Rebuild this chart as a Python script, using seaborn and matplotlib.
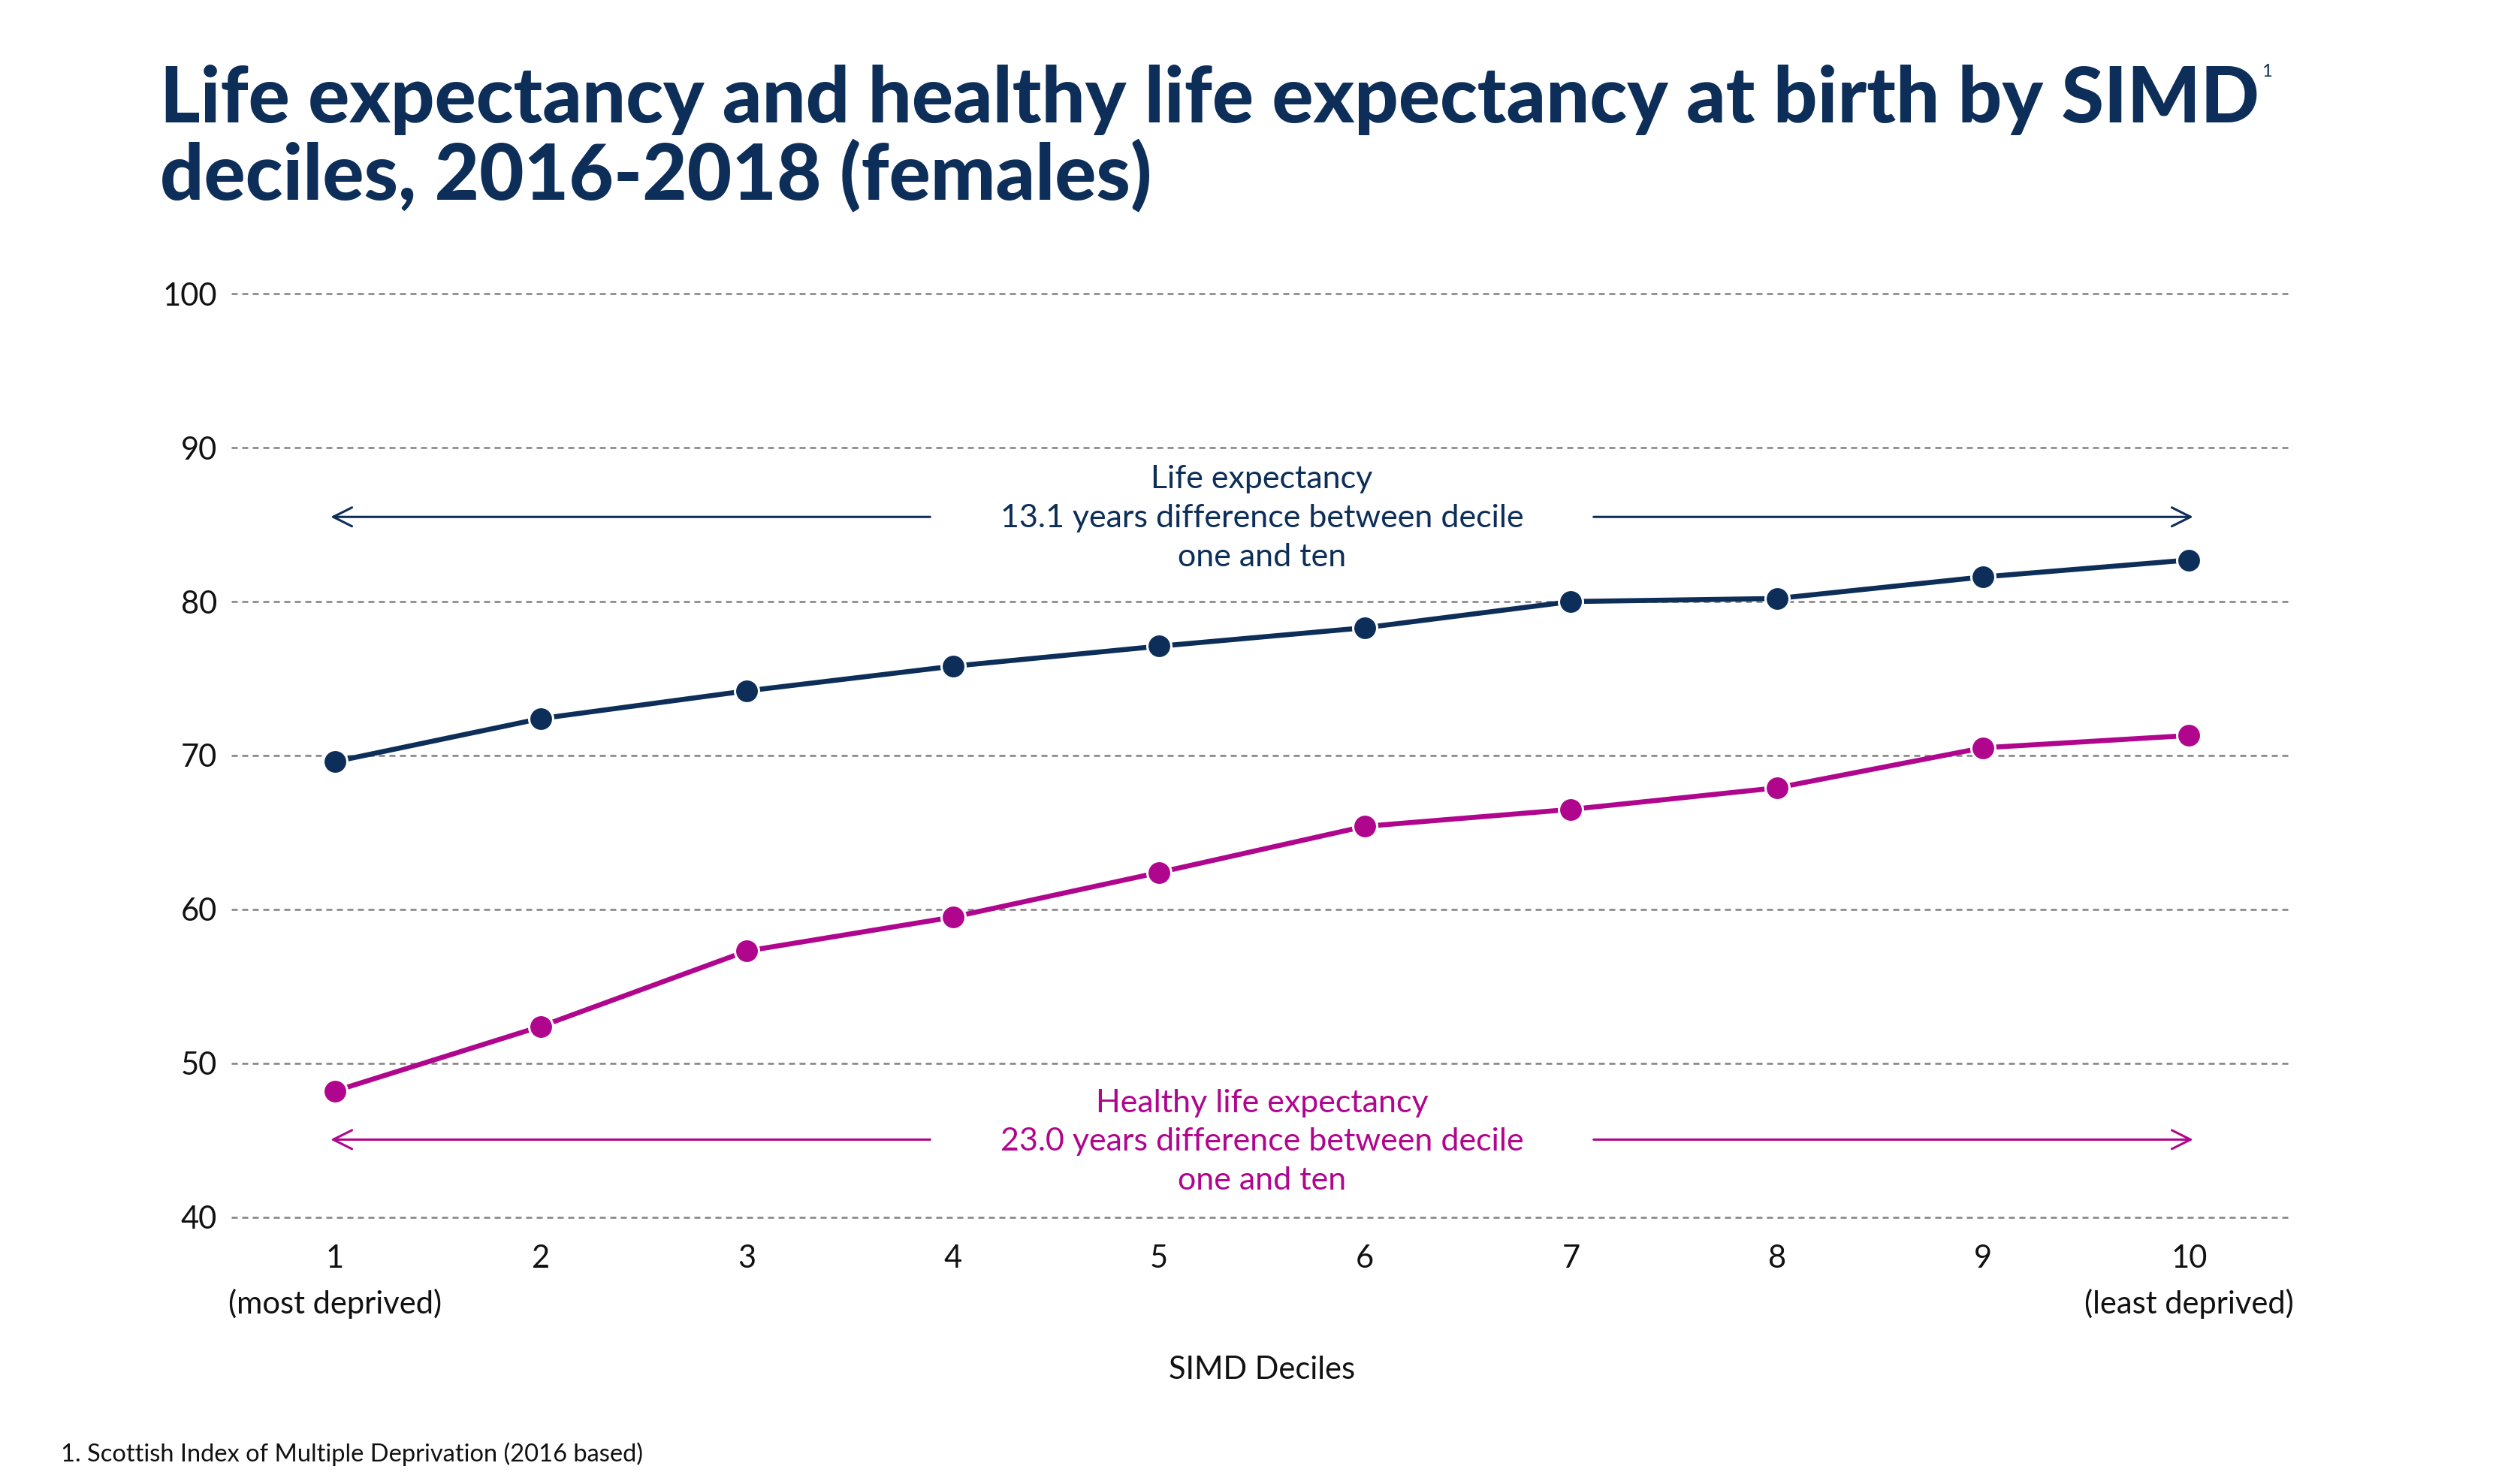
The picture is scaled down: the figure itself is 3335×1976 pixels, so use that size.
import matplotlib
matplotlib.use("Agg")
import matplotlib.pyplot as plt
import seaborn as sns
import pandas as pd

# ---- data ----
deciles = [1, 2, 3, 4, 5, 6, 7, 8, 9, 10]
life_expectancy = [69.6, 72.4, 74.2, 75.8, 77.1, 78.3, 80.0, 80.2, 81.6, 82.7]
healthy_life_expectancy = [48.2, 52.4, 57.3, 59.5, 62.4, 65.4, 66.5, 67.9, 70.5, 71.3]
x_tick_labels = ["1\n(most deprived)", "2", "3", "4", "5", "6", "7", "8", "9", "10\n(least deprived)"]
y_ticks = [40, 50, 60, 70, 80, 90, 100]
series_names = ["Life expectancy", "Healthy life expectancy"]

NAVY = "#0c2e58"
MAGENTA = "#b0068e"
GRID = "#808080"
TXT = "#111111"

sns.set_style("white")
plt.rcParams["font.family"] = ["Lato", "DejaVu Sans"]

df = pd.DataFrame({
    "decile": deciles * 2,
    "value": life_expectancy + healthy_life_expectancy,
    "series": [series_names[0]] * len(deciles) + [series_names[1]] * len(deciles),
})

fig = plt.figure(figsize=(33.35, 19.76), dpi=100)
ax = fig.add_axes([0.0925, 0.1797, 0.8225, 0.6224])

sns.lineplot(data=df, x="decile", y="value", hue="series", style="series",
             palette={series_names[0]: NAVY, series_names[1]: MAGENTA},
             markers={series_names[0]: "o", series_names[1]: "o"},
             dashes=False, linewidth=4.8, markersize=23,
             markeredgecolor="white", markeredgewidth=2.2,
             legend=False, ax=ax, zorder=5)

ax.set_xlim(0.5, 10.5)
ax.set_ylim(40, 100)
ax.set_yticks(y_ticks)
ax.set_xticks(deciles)
ax.set_xticklabels(x_tick_labels, linespacing=1.62)
for s in ax.spines.values():
    s.set_visible(False)
ax.tick_params(axis="both", length=0, labelsize=30, labelcolor=TXT)
ax.tick_params(axis="y", pad=14)
ax.tick_params(axis="x", pad=26)
ax.yaxis.grid(True, color=GRID, linestyle=(0, (3.2, 2.4)), linewidth=1.8)
ax.xaxis.grid(False)
for gl in ax.get_ygridlines():
    gl.set_clip_on(False)
ax.set_ylabel("")
ax.set_xlabel("SIMD Deciles", fontsize=30, color=TXT)
ax.xaxis.set_label_coords(0.5, -0.15)

# annotations
arrow_kw = dict(arrowstyle="->", lw=2.2, mutation_scale=45)
ax.annotate("", xy=(0.97, 85.5), xytext=(3.9, 85.5),
            arrowprops=dict(color=NAVY, **arrow_kw), annotation_clip=False)
ax.annotate("", xy=(10.03, 85.5), xytext=(7.1, 85.5),
            arrowprops=dict(color=NAVY, **arrow_kw), annotation_clip=False)
ax.text(5.5, 85.4, "Life expectancy\n13.1 years difference between decile\none and ten",
        ha="center", va="center", fontsize=31, color=NAVY, linespacing=1.45)

ax.annotate("", xy=(0.97, 45.05), xytext=(3.9, 45.05),
            arrowprops=dict(color=MAGENTA, **arrow_kw), annotation_clip=False)
ax.annotate("", xy=(10.03, 45.05), xytext=(7.1, 45.05),
            arrowprops=dict(color=MAGENTA, **arrow_kw), annotation_clip=False)
ax.text(5.5, 44.9, "Healthy life expectancy\n23.0 years difference between decile\none and ten",
        ha="center", va="center", fontsize=31, color=MAGENTA, linespacing=1.45)

# title
t1 = fig.text(0.0638, 0.9175, "Life expectancy and healthy life expectancy at birth by SIMD",
              fontsize=74, fontweight="black", color=NAVY, va="baseline", ha="left")
fig.text(0.0638, 0.865, "deciles, 2016-2018 (females)",
         fontsize=74, fontweight="black", color=NAVY, va="baseline", ha="left")
fig.canvas.draw()
bb = t1.get_window_extent()
fig.text(bb.x1 / fig.bbox.width + 0.001, 0.957, "1", fontsize=17, color=NAVY,
         va="top", ha="left")

# footnote
fig.text(0.0242, 0.012, "1. Scottish Index of Multiple Deprivation (2016 based)",
         fontsize=23.5, color=TXT, va="bottom", ha="left")

fig.savefig("out.png", dpi=100)
